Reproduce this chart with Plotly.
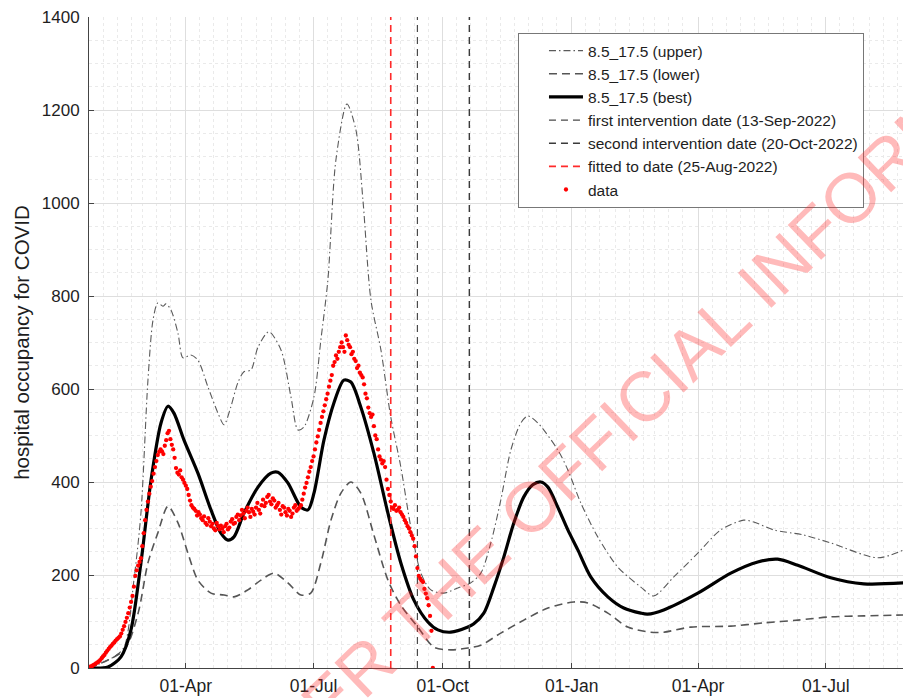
import pandas as pd
import plotly.graph_objects as go

BASE = "2022-01-22"

# ---- model curves: day offsets from BASE and values ----
best_days = [0, 13.5, 22.8, 29.9, 37, 44.2, 51.3, 56.3, 60.5, 67.7, 77.6, 86.9, 94, 99, 103.3, 110.4,
             120.4, 129.6, 134.6, 141.7, 151, 156, 160.3, 167.4, 174.5, 181.6, 186.6, 193.7, 203, 213,
             222.2, 231.5, 241.5, 248.6, 257.8, 270, 274.2, 281.3, 288.5, 295.6, 302.7, 309.8, 316.2,
             322, 327, 334, 341.2, 348.3, 357.5, 369.7, 381, 393.2, 398, 409.5, 433.8, 457.3, 476.5,
             490.7, 505, 528.5, 552, 580.5]
best_vals = [0, 2, 24, 82, 226, 404, 527, 563, 548, 490, 419, 340, 290, 275, 282, 333,
             389, 419, 421, 398, 346, 340, 376, 490, 570, 619, 615, 561, 462, 333,
             226, 146, 99, 82, 77, 88, 95, 118, 174, 239, 312, 368, 394,
             400, 389, 346, 297, 254, 196, 153, 129, 118, 116, 125, 161, 204, 228,
             234, 221, 194, 181, 183]

upper_days = [0, 17.8, 25, 32, 37, 42, 45.6, 49, 52.7, 54.8, 58.4, 63.4, 67, 72.6, 77.6, 84.8, 91.9,
              96.2, 101, 106, 110.4, 115.4, 120.4, 128.2, 136.8, 143.9, 148.9, 153.1, 160.3, 165.2,
              170.2, 175.9, 183.8, 190.2, 195.2, 200.9, 208, 215, 222.2, 229.3, 236.5, 243.6, 252.8,
              262.8, 272, 279.2, 286.3, 293.4, 300.6, 307.7, 312.7, 319.8, 334, 341.2, 350.4, 362.5,
              376.8, 393.2, 402.4, 416.7, 433.8, 450.1, 466.5, 473.6, 487.9, 509.3, 528.5, 562, 580.5]
upper_vals = [0, 24, 45, 189, 333, 619, 748, 785, 778, 783, 770, 720, 667, 673, 662, 604, 548,
              523, 561, 613, 637, 641, 690, 723, 684, 583, 512, 518, 583, 705,
              834, 1092, 1213, 1157, 1006, 791, 684, 540, 432, 303, 204, 168, 161,
              172, 183, 204, 269, 361, 469, 527, 542, 527, 469, 426, 355, 282,
              217, 174, 155, 196, 247, 297, 318, 314, 297, 286, 269, 237, 254]

lower_days = [0, 25, 35, 42, 49, 56.3, 63.4, 70.5, 77.6, 86.9, 96.2, 103.3, 113.2, 122.5, 131.8,
              141.7, 151, 158, 165.2, 172.4, 179.5, 186.6, 193.7, 203, 213, 222.2, 234.3, 245.7,
              257.8, 270, 279.2, 293.4, 309.8, 327, 345.4, 355.4, 369.7, 383.9, 400.3, 409.5, 428.8,
              457.3, 480.8, 505, 528.5, 552, 580.5]
lower_vals = [0, 39, 118, 226, 290, 348, 312, 247, 189, 161, 157, 153, 168, 189, 204,
              183, 157, 161, 226, 318, 376, 400, 376, 286, 189, 135, 88, 45,
              39, 43, 49, 75, 103, 129, 142, 140, 118, 88, 77, 77, 88,
              90, 97, 103, 110, 112, 114]

# ---- observed daily hospital occupancy (one value per day from BASE) ----
data_vals = [
    2, 3, 4, 6, 8, 10, 12,
    14, 17, 21, 25, 28, 33, 37,
    41, 45, 48, 52, 55, 59, 62,
    65, 68, 74, 82, 90, 99, 108,
    118, 130, 142, 155, 175, 198, 210,
    220, 228, 236, 262, 290, 318, 340,
    358, 375, 390, 402, 418, 432, 445,
    458, 465, 470, 466, 460, 478, 490,
    505, 510, 492, 480, 470, 452, 430,
    420, 416, 425, 410, 405, 398, 392,
    385, 372, 360, 350, 345, 342, 338,
    328, 335, 330, 322, 318, 326, 312,
    308, 322, 315, 305, 310, 300, 296,
    312, 305, 298, 306, 300, 292, 305,
    310, 298, 302, 315, 320, 310, 312,
    325, 330, 318, 328, 340, 332, 322,
    338, 345, 335, 325, 342, 336, 330,
    345, 355, 340, 332, 350, 362, 348,
    355, 368, 372, 358, 352, 365, 360,
    345, 350, 355, 340, 330, 348, 345,
    335, 328, 342, 338, 325, 332, 345,
    350, 338, 342, 345, 350, 362, 375,
    388, 398, 410, 422, 432, 445, 455,
    470, 485, 498, 512, 527, 540, 552,
    565, 578, 590, 605, 618, 630, 650,
    658, 672, 665, 680, 690, 700, 690,
    680, 715, 705, 695, 690, 675, 680,
    665, 660, 645, 650, 635, 630, 625,
    610, 590, 580, 560, 548, 540, 545,
    520, 500, 492, 470, 455, 448, 440,
    445, 432, 405, 385, 372, 358, 345,
    342, 350, 338, 340, 345, 335, 330,
    325, 318, 312, 305, 300, 292, 285,
    278, 262, 240, 215, 198, 192, 188,
    185, 170, 160, 150, 135, 112, 80,
    0,
]

first_intervention = "2022-09-13"
second_intervention = "2022-10-20"
fitted_date = "2022-08-25"

x_range = ["2022-01-22", "2023-08-25"]
y_range = [0, 1400]
y_ticks = [0, 200, 400, 600, 800, 1000, 1200, 1400]

base = pd.Timestamp(BASE)


def to_dates(days):
    return [base + pd.Timedelta(days=float(d)) for d in days]


FONT = "Liberation Sans, Arial, Helvetica, sans-serif"
TXT = "#1e1e1e"

fig = go.Figure()

fig.add_trace(go.Scatter(x=to_dates(upper_days), y=upper_vals, mode="lines",
                         name="8.5_17.5 (upper)", line=dict(color="#5a5a5a", width=1.1,
                         dash="7px,3px,1.5px,3px", shape="spline", smoothing=0.8)))
fig.add_trace(go.Scatter(x=to_dates(lower_days), y=lower_vals, mode="lines",
                         name="8.5_17.5 (lower)", line=dict(color="#555555", width=1.6,
                         dash="8px,5px", shape="spline", smoothing=0.8)))
fig.add_trace(go.Scatter(x=to_dates(best_days), y=best_vals, mode="lines",
                         name="8.5_17.5 (best)", line=dict(color="#000000", width=3.2,
                         shape="spline", smoothing=0.8)))
for name, dt, col, w in [("first intervention date (13-Sep-2022)", first_intervention, "#4a4a4a", 1.2),
                         ("second intervention date (20-Oct-2022)", second_intervention, "#3a3a3a", 1.4),
                         ("fitted to date (25-Aug-2022)", fitted_date, "#ff2a2a", 1.6)]:
    fig.add_trace(go.Scatter(x=[dt, dt], y=y_range, mode="lines", name=name,
                             line=dict(color=col, width=w, dash="7px,5px")))

fig.add_trace(go.Scatter(x=to_dates(range(len(data_vals))), y=data_vals, mode="markers",
                         name="data", marker=dict(color="#ff0000", size=4.3, line=dict(width=0))))

minor_x = []
for yr in (2022, 2023):
    for m in range(1, 13):
        for dday in (11, 21):
            minor_x.append(f"{yr}-{m:02d}-{dday:02d}")
        if m not in (1, 4, 7, 10):
            minor_x.append(f"{yr}-{m:02d}-01")

fig.update_layout(
    width=903, height=698,
    margin=dict(l=89, r=0, t=17, b=30),
    paper_bgcolor="white", plot_bgcolor="white",
    font=dict(family=FONT, size=17, color=TXT),
    showlegend=True,
    legend=dict(x=0.527, y=0.9754, xanchor="left", yanchor="top",
                bgcolor="white", bordercolor="#777777", borderwidth=1,
                font=dict(family=FONT, size=15.5, color=TXT),
                tracegroupgap=0, indentation=25, itemwidth=34),
    xaxis=dict(range=x_range, type="date", dtick="M3", tick0="2022-01-01",
               tickformat="%d-%b", ticks="inside", ticklen=5, tickcolor="#444444",
               showline=True, linecolor="#444444", linewidth=1,
               showgrid=True, gridcolor="#dedede", gridwidth=1, zeroline=False,
               tickfont=dict(size=17.5, color=TXT), ticklabelstandoff=2,
               minor=dict(tickvals=minor_x, showgrid=True, gridcolor="#eaeaea",
                          griddash="dot", gridwidth=1, ticks="")),
    yaxis=dict(range=y_range, tickvals=y_ticks, ticks="inside", ticklen=5, tickcolor="#444444",
               showline=True, linecolor="#444444", linewidth=1,
               showgrid=True, gridcolor="#dedede", gridwidth=1, zeroline=False,
               tickfont=dict(size=17, color=TXT), ticklabelstandoff=5,
               title=dict(text="hospital occupancy for COVID", font=dict(size=20.5, color=TXT),
                          standoff=6),
               minor=dict(dtick=50, showgrid=True, gridcolor="#eaeaea", griddash="dot",
                          gridwidth=1, ticks="")),
)

fig.add_annotation(text="RELEASED UNDER THE OFFICIAL INFORMATION ACT 1982",
                   xref="paper", yref="paper", x=0.6634, y=0.3932,
                   xanchor="center", yanchor="middle", textangle=-44, showarrow=False,
                   font=dict(family=FONT, size=70, color="rgba(255,40,40,0.32)"))

fig.write_html("out.html", config={"displayModeBar": False},
               post_script="document.body.style.margin='0px';document.body.style.overflow='hidden';")
